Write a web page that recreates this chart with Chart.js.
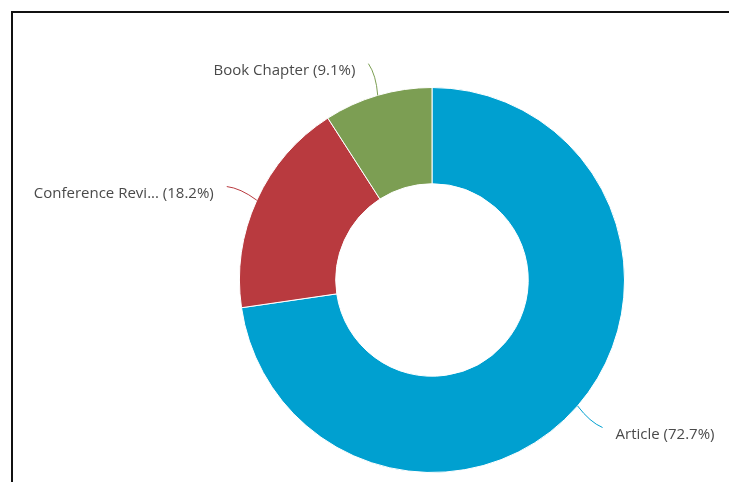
<!DOCTYPE html>
<html>
<head>
<meta charset="utf-8">
<script src="https://cdn.jsdelivr.net/npm/chart.js@4/dist/chart.umd.min.js"></script>
<style>
  html, body { margin: 0; padding: 0; background: #fff; }
  #wrap { position: relative; width: 729px; height: 482px; overflow: hidden; }
  #frame {
    position: absolute; left: 11px; top: 11px; right: -5px; bottom: -5px;
    border-top: 2px solid #111; border-left: 2px solid #111;
  }
  canvas { position: absolute; left: 0; top: 0; }
</style>
</head>
<body>
<div id="wrap">
  <div id="frame"></div>
  <canvas id="docTypeChart" width="729" height="482"></canvas>
</div>
<script>
// Documents by type
const docTypes = ['Article', 'Conference Review', 'Book Chapter'];
const docShares = [72.7, 18.2, 9.1];
const sliceColors = ['#00a0d0', '#b93a3f', '#7c9e53'];

function shortName(name) {
  return name.length > 15 ? name.slice(0, 15) + '...' : name;
}

// Leader lines + labels outside the ring
const outsideLabels = {
  id: 'outsideLabels',
  afterDatasetsDraw(chart) {
    const ctx = chart.ctx;
    const arcs = chart.getDatasetMeta(0).data;
    ctx.save();
    ctx.font = '15px "Open Sans", Lato, sans-serif';
    ctx.textBaseline = 'middle';
    arcs.forEach((arc, i) => {
      const { x, y, startAngle, endAngle, outerRadius } = arc.getProps(
        ['x', 'y', 'startAngle', 'endAngle', 'outerRadius'], true);
      const mid = (startAngle + endAngle) / 2;
      const cos = Math.cos(mid), sin = Math.sin(mid);
      const x0 = x + cos * outerRadius, y0 = y + sin * outerRadius;
      const x2 = x + cos * (outerRadius + 33), y2 = y + sin * (outerRadius + 33);
      const cx = x + Math.cos(mid + 0.02) * (outerRadius + 20);
      const cy = y + Math.sin(mid + 0.02) * (outerRadius + 20);

      ctx.strokeStyle = sliceColors[i];
      ctx.lineWidth = 1;
      ctx.beginPath();
      ctx.moveTo(x0, y0);
      ctx.quadraticCurveTo(cx, cy, x2, y2);
      ctx.stroke();

      const text = shortName(docTypes[i]) + ' (' + docShares[i].toFixed(1) + '%)';
      const right = cos >= 0;
      ctx.textAlign = right ? 'left' : 'right';
      ctx.fillStyle = '#4a4a4a';
      ctx.fillText(text, x2 + (right ? 13 : -13), y2 + 7);
    });
    ctx.restore();
  }
};

const ctx = document.getElementById('docTypeChart').getContext('2d');
new Chart(ctx, {
  type: 'doughnut',
  data: {
    labels: docTypes,
    datasets: [{
      data: docShares,
      backgroundColor: sliceColors,
      borderColor: '#ffffff',
      borderWidth: 1
    }]
  },
  options: {
    responsive: false,
    animation: false,
    cutout: '50%',
    layout: { padding: { left: 239, right: 104, top: 87, bottom: 9 } },
    plugins: {
      legend: { display: false },
      tooltip: { enabled: false }
    }
  },
  plugins: [outsideLabels]
});
</script>
</body>
</html>
